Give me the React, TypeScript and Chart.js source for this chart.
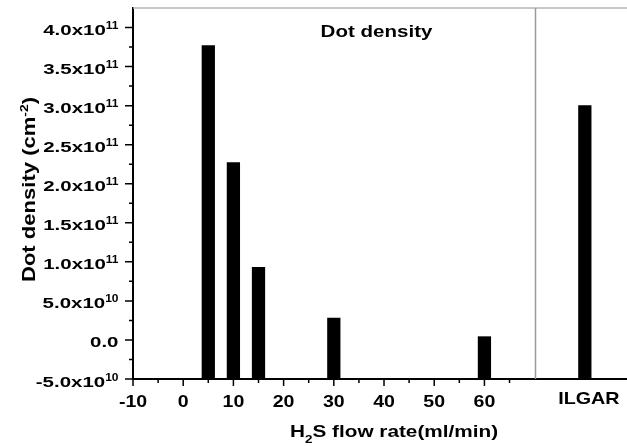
import { useEffect, useRef } from "react";
import { Chart, registerables } from "chart.js";

Chart.register(...registerables);

// ---- data ----
const flowRates = [5, 10, 15, 30, 60];
const dotDensities = [3.77e11, 2.27e11, 0.93e11, 0.28e11, 0.042e11];
const ilgarPosition = 80;
const ilgarDensity = 3.0e11;
const ilgarLabel = "ILGAR";
const separatorPosition = 70;
const xTickValues = [-10, 0, 10, 20, 30, 40, 50, 60];
const xTickLabels = ["-10", "0", "10", "20", "30", "40", "50", "60"];
const xMinorTicks = [-5, 5, 15, 25, 35, 45, 55, 65];
const yTickValues = [-5e10, 0, 5e10, 1e11, 1.5e11, 2e11, 2.5e11, 3e11, 3.5e11, 4e11];
const yTickMantissas = ["-5.0", "0.0", "5.0", "1.0", "1.5", "2.0", "2.5", "3.0", "3.5", "4.0"];
const yTickExponents = ["10", "", "10", "11", "11", "11", "11", "11", "11", "11"];
const yMinorTicks = [-2.5e10, 2.5e10, 7.5e10, 1.25e11, 1.75e11, 2.25e11, 2.75e11, 3.25e11, 3.75e11];
const xMin = -10;
const xMax = 88.4;
const yMin = -5e10;
const yMax = 4.25e11;
const innerTitle = "Dot density";
const xTitleParts = ["H", "2", "S flow rate(ml/min)"];
const yTitleParts = ["Dot density (cm", "-2", ")"];

const FONT = '"Liberation Sans", Arial, sans-serif';

function drawStretched(
  ctx: CanvasRenderingContext2D,
  s: string,
  x: number,
  y: number,
  size: number,
  stretch: number,
  align: "left" | "center" | "right"
) {
  ctx.font = `bold ${size}px ${FONT}`;
  const w = ctx.measureText(s).width * stretch;
  const x0 = align === "left" ? x : align === "center" ? x - w / 2 : x - w;
  ctx.save();
  ctx.translate(x0, y);
  ctx.scale(stretch, 1);
  ctx.textAlign = "left";
  ctx.textBaseline = "alphabetic";
  ctx.fillStyle = "#000";
  ctx.fillText(s, 0, 0);
  ctx.restore();
  return w;
}

function measure(ctx: CanvasRenderingContext2D, s: string, size: number, stretch: number) {
  ctx.font = `bold ${size}px ${FONT}`;
  return ctx.measureText(s).width * stretch;
}

const decor = {
  id: "decor",
  beforeDatasetsDraw(chart: any) {
    const { ctx, chartArea, scales } = chart;
    const xs = scales.x;
    ctx.save();
    // top border
    ctx.strokeStyle = "#b4b4b4";
    ctx.lineWidth = 1.5;
    ctx.beginPath();
    ctx.moveTo(chartArea.left, chartArea.top);
    ctx.lineTo(chartArea.right, chartArea.top);
    ctx.stroke();
    // separator
    const sx = Math.round(xs.getPixelForValue(separatorPosition)) + 0.5;
    ctx.strokeStyle = "#9a9a9a";
    ctx.lineWidth = 1.5;
    ctx.beginPath();
    ctx.moveTo(sx, chartArea.top);
    ctx.lineTo(sx, chartArea.bottom);
    ctx.stroke();
    ctx.restore();
  },
  afterDraw(chart: any) {
    const { ctx, chartArea, scales } = chart;
    const xs = scales.x;
    const ys = scales.y;
    const L = chartArea.left;
    const B = chartArea.bottom;
    ctx.save();
    ctx.strokeStyle = "#000";
    ctx.lineWidth = 1.5;
    // y ticks
    ctx.beginPath();
    yTickValues.forEach((v) => {
      const p = ys.getPixelForValue(v);
      ctx.moveTo(L - 8, p);
      ctx.lineTo(L, p);
    });
    yMinorTicks.forEach((v) => {
      const p = ys.getPixelForValue(v);
      ctx.moveTo(L - 4, p);
      ctx.lineTo(L, p);
    });
    // x ticks
    xTickValues.forEach((v) => {
      const p = xs.getPixelForValue(v);
      ctx.moveTo(p, B);
      ctx.lineTo(p, B + 7);
    });
    xMinorTicks.forEach((v) => {
      const p = xs.getPixelForValue(v);
      ctx.moveTo(p, B);
      ctx.lineTo(p, B + 4);
    });
    ctx.stroke();

    // y tick labels
    const right = L - 14.5;
    yTickValues.forEach((v, i) => {
      const p = ys.getPixelForValue(v);
      const base = p + 7.5;
      const exp = yTickExponents[i];
      const main = exp ? yTickMantissas[i] + "x10" : yTickMantissas[i];
      let r = right;
      if (exp) {
        const ws = drawStretched(ctx, exp, r, base - 6, 10, 1.2, "right");
        r -= ws;
      }
      drawStretched(ctx, main, r, base, 15.5, 1.32, "right");
    });

    // x tick labels
    xTickValues.forEach((v, i) => {
      const p = xs.getPixelForValue(v);
      drawStretched(ctx, xTickLabels[i], p, B + 28, 16, 1.22, "center");
    });
    drawStretched(ctx, ilgarLabel, xs.getPixelForValue(ilgarPosition) + 4, B + 25, 17, 1.16, "center");

    // inner title
    drawStretched(ctx, innerTitle, xs.getPixelForValue(38.5), chartArea.top + 29, 15.8, 1.3, "center");

    // x title with subscript
    const sMain = 17, sSub = 11, stX = 1.22;
    const w0 = measure(ctx, xTitleParts[0], sMain, stX);
    const w1 = measure(ctx, xTitleParts[1], sSub, stX);
    const w2 = measure(ctx, xTitleParts[2], sMain, stX);
    let tx = xs.getPixelForValue(42) - (w0 + w1 + w2) / 2;
    const tb = B + 57.5;
    tx += drawStretched(ctx, xTitleParts[0], tx, tb, sMain, stX, "left");
    tx += drawStretched(ctx, xTitleParts[1], tx, tb + 6.5, sSub, stX, "left");
    drawStretched(ctx, xTitleParts[2], tx, tb, sMain, stX, "left");

    // y title, rotated, with superscript
    const sY = 17.5, stY = 1.26;
    const a0 = measure(ctx, yTitleParts[0], sY, stY);
    const a1 = measure(ctx, yTitleParts[1], 11, stY);
    const a2 = measure(ctx, yTitleParts[2], sY, stY);
    const total = a0 + a1 + a2;
    const cy = (chartArea.top + chartArea.bottom) / 2 - 4;
    ctx.save();
    ctx.translate(35, cy + total / 2);
    ctx.rotate(-Math.PI / 2);
    let ux = 0;
    ux += drawStretched(ctx, yTitleParts[0], ux, 0, sY, stY, "left");
    ux += drawStretched(ctx, yTitleParts[1], ux, -7, 11, stY, "left");
    drawStretched(ctx, yTitleParts[2], ux, 0, sY, stY, "left");
    ctx.restore();

    ctx.restore();
  },
};

export default function App() {
  const ref = useRef<HTMLCanvasElement | null>(null);
  useEffect(() => {
    if (!ref.current) return;
    const points = flowRates.map((x, i) => ({ x, y: dotDensities[i] }));
    points.push({ x: ilgarPosition, y: ilgarDensity });
    const chart = new Chart(ref.current, {
      type: "bar",
      data: {
        datasets: [
          {
            data: points as any,
            backgroundColor: "#000",
            borderWidth: 0,
            barThickness: 12.6,
            base: yMin,
          } as any,
        ],
      },
      options: {
        animation: false,
        responsive: false,
        devicePixelRatio: 1,
        layout: { padding: { top: 8, left: 0, right: 0, bottom: 0 } },
        plugins: {
          legend: { display: false },
          tooltip: { enabled: false },
          title: { display: false },
        },
        scales: {
          x: {
            type: "linear",
            min: xMin,
            max: xMax,
            offset: false,
            grid: { display: false, offset: false },
            ticks: { display: false },
            border: { display: true, color: "#000", width: 2 },
            afterFit: (s: any) => {
              s.height = 67;
            },
          },
          y: {
            type: "linear",
            min: yMin,
            max: yMax,
            grid: { display: false },
            ticks: { display: false },
            border: { display: true, color: "#000", width: 2 },
            afterFit: (s: any) => {
              s.width = 133;
            },
          },
        },
      } as any,
      plugins: [decor],
    });
    return () => chart.destroy();
  }, []);
  return (
    <div style={{ position: "absolute", left: 0, top: 0, width: 627, height: 446, background: "#fff" }}>
      <canvas ref={ref} width={627} height={446} style={{ display: "block" }} />
    </div>
  );
}
